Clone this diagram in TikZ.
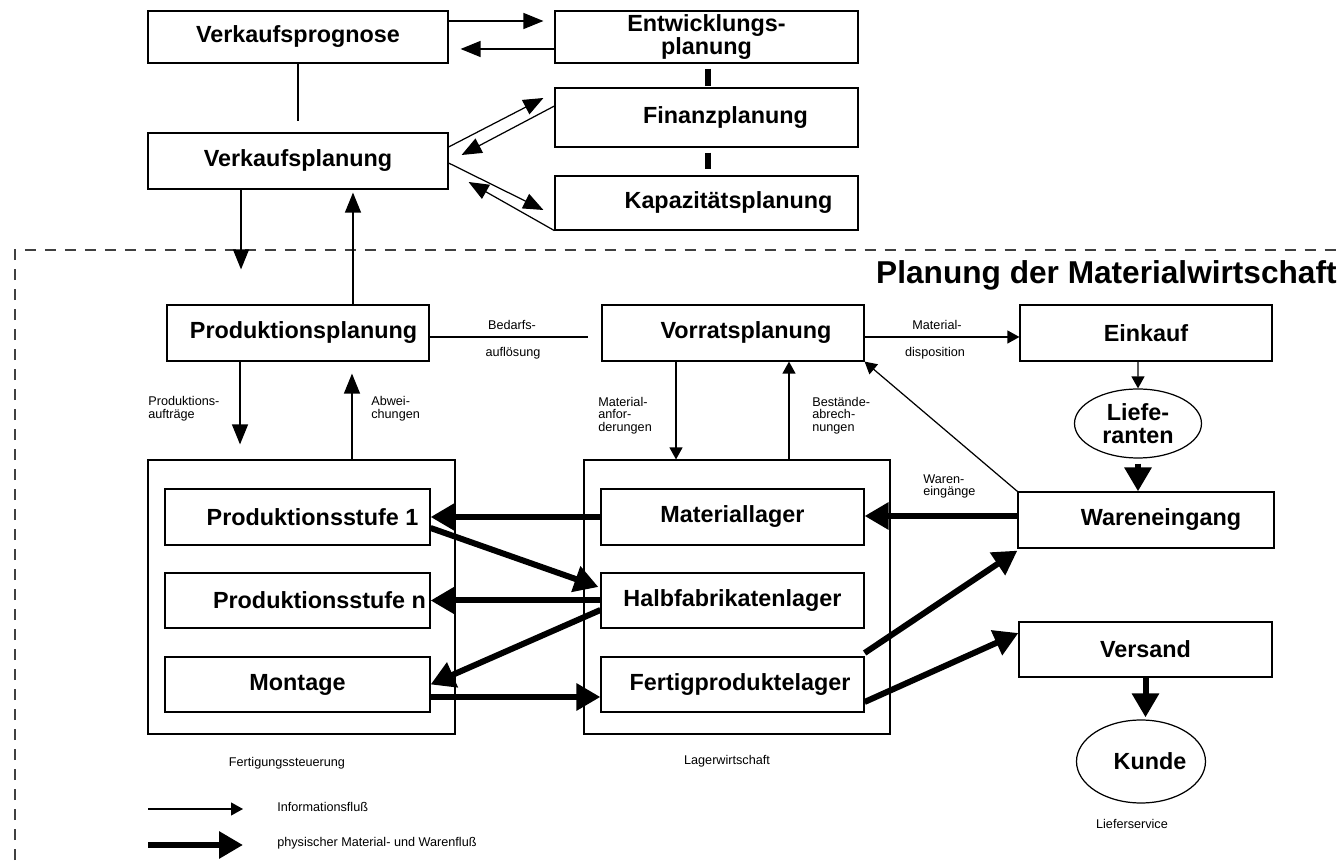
\documentclass[tikz,border=0pt]{standalone}
\usepackage{fontspec}
\setmainfont{Liberation Sans}
\usetikzlibrary{arrows.meta,shapes.geometric}

\tikzstyle{block} = [rectangle, draw, line width=0.7pt, inner sep=0pt, align=center,
    font=\fontsize{13.3}{13}\selectfont\bfseries]
\tikzstyle{oval} = [ellipse, draw, line width=0.7pt, inner sep=0pt, align=center,
    font=\fontsize{13.3}{13}\selectfont\bfseries]
\tikzstyle{frame} = [rectangle, draw, line width=0.7pt, inner sep=0pt]
\tikzstyle{note} = [inner sep=0pt, align=left, font=\fontsize{7.2}{7.2}\selectfont]
\tikzstyle{info} = [-{Triangle[length=0.4cm,width=0.32cm]}, line width=0.7pt]
\tikzstyle{infosmall} = [-{Triangle[length=0.24cm,width=0.26cm]}, line width=0.7pt]
\tikzstyle{flow} = [-{Triangle[length=0.48cm,width=0.52cm]}, line width=0.12cm]
\tikzstyle{bar} = [line width=0.12cm]
\tikzstyle{planframe} = [line width=0.7pt, black!75, dash pattern=on 0.22cm off 0.18cm]

\begin{document}
\begin{tikzpicture}[x=0.02cm,y=-0.02cm]

  \useasboundingbox (0,0) rectangle (1340,864);

  \node[block, minimum width=6cm,    minimum height=1.04cm] (vprog) at (298,37)     {Verkaufsprognose};
  \node[block, minimum width=6.06cm, minimum height=1.04cm] (entw)  at (706.5,37)   {Entwicklungs-\\planung};
  \node[block, minimum width=6.06cm, minimum height=1.18cm] (fin)   at (706.5,117.5) {\hspace*{0.76cm}Finanzplanung};
  \node[block, minimum width=6.06cm, minimum height=1.08cm] (kap)   at (706.5,203)  {\hspace*{0.88cm}Kapazitätsplanung};
  \node[block, minimum width=6cm,    minimum height=1.12cm] (vplan) at (298,161)    {Verkaufsplanung};

  \draw[planframe] (15,900) -- (15,250) -- (1400,250);
  \node[anchor=base east, inner sep=0pt, font=\fontsize{18}{18}\selectfont\bfseries] (title)
       at (1337,284) {Planung der Materialwirtschaft};

  \node[block, minimum width=5.24cm, minimum height=1.12cm] (pplan) at (298,333)  {\hspace*{0.22cm}Produktionsplanung};
  \node[block, minimum width=5.24cm, minimum height=1.12cm] (vorr)  at (733,333)  {\hspace*{0.52cm}Vorratsplanung};
  \node[block, minimum width=5.04cm, minimum height=1.12cm] (eink)  at (1146,333) {Einkauf};
  \node[oval,  minimum width=2.54cm, minimum height=1.38cm] (lief)  at (1138,423.5) {Liefe-\\ranten};
  \node[block, minimum width=5.12cm, minimum height=1.12cm] (ware)  at (1146,520) {\hspace*{0.6cm}Wareneingang};
  \node[block, minimum width=5.06cm, minimum height=1.1cm]  (vers)  at (1145.5,649.5) {Versand};
  \node[oval,  minimum width=2.58cm, minimum height=1.66cm] (kunde) at (1141,761.5) {\hspace*{0.36cm}Kunde};

  \node[frame, minimum width=6.14cm, minimum height=5.48cm] (fst) at (301.5,597) {};
  \node[frame, minimum width=6.12cm, minimum height=5.48cm] (lgw) at (737,597) {};

  \node[block, minimum width=5.3cm,  minimum height=1.12cm] (ps1)  at (297.5,517)   {\hspace*{0.6cm}Produktionsstufe 1};
  \node[block, minimum width=5.3cm,  minimum height=1.1cm]  (psn)  at (297.5,600.5) {\hspace*{0.88cm}Produktionsstufe n};
  \node[block, minimum width=5.3cm,  minimum height=1.1cm]  (mont) at (297.5,684.5) {Montage};
  \node[block, minimum width=5.26cm, minimum height=1.12cm] (mlag) at (732.5,517)   {Materiallager};
  \node[block, minimum width=5.26cm, minimum height=1.1cm]  (hlag) at (732.5,600.5) {Halbfabrikatenlager};
  \node[block, minimum width=5.26cm, minimum height=1.1cm]  (flag) at (732.5,684.5) {\hspace*{0.3cm}Fertigproduktelager};

  \node[note] (bed1) at (512,325) {Bedarfs-};
  \node[note] (bed2) at (513,353) {auflösung};
  \node[note] (mat1) at (937,325) {Material-};
  \node[note] (mat2) at (935,353) {disposition};
  \node[note, anchor=west] (pauf) at (148,409)   {Produktions-\\aufträge};
  \node[note, anchor=west] (abw)  at (371,409)   {Abwei-\\chungen};
  \node[note, anchor=west] (manf) at (598,415.5) {Material-\\anfor-\\derungen};
  \node[note, anchor=west] (babr) at (812,415.5) {Bestände-\\abrech-\\nungen};
  \node[note, anchor=west] (weing) at (923,486.5) {Waren-\\eingänge};
  \node[note] (fstlabel) at (287,763)  {Fertigungssteuerung};
  \node[note] (lgwlabel) at (727,761)  {Lagerwirtschaft};
  \node[note] (lslabel)  at (1132,824) {Lieferservice};

  \coordinate (infoA) at (148,809);
  \coordinate (infoB) at (243,809);
  \coordinate (flowA) at (148,845);
  \coordinate (flowB) at (243,845);
  \node[note, anchor=west] (infotext) at (277,807) {Informationsfluß};
  \node[note, anchor=west] (flowtext) at (277,843) {physischer Material- und Warenfluß};

  \draw[info] ([yshift=0.32cm]vprog.east) -- ([yshift=0.32cm,xshift=-0.22cm]entw.west);
  \draw[info] ([yshift=-0.24cm]entw.west) -- ([yshift=-0.24cm,xshift=0.24cm]vprog.east);
  \draw[bar, shorten <=0.1cm, shorten >=0.02cm] ([xshift=0.03cm]entw.south) -- ([xshift=0.03cm]fin.north);
  \draw[bar, shorten <=0.1cm, shorten >=0.12cm] ([xshift=0.03cm]fin.south) -- ([xshift=0.03cm]kap.north);
  \draw[line width=0.7pt, shorten >=0.22cm] (vprog.south) -- (vplan.north);

  \draw[info] ([yshift=0.28cm]vplan.east) -- ([xshift=-0.22cm,yshift=0.39cm]fin.west);
  \draw[info] ([yshift=0.23cm]fin.west) -- ([xshift=0.26cm,yshift=0.12cm]vplan.east);
  \draw[info] ([yshift=-0.04cm]vplan.east) -- ([xshift=-0.22cm,yshift=-0.14cm]kap.west);
  \draw[info] (kap.south west) -- ([xshift=0.4cm,yshift=-0.42cm]vplan.east);

  \draw[info, shorten >=0.7cm] ([xshift=-1.14cm]vplan.south) -- ([xshift=-1.14cm]vplan.south |- pplan.north);
  \draw[info, shorten >=0.06cm] ([xshift=1.1cm]vplan.south |- pplan.north) -- ([xshift=1.1cm]vplan.south);
  \draw[info, shorten >=0.3cm] ([xshift=-1.16cm]pplan.south) -- ([xshift=-1.16cm]pplan.south |- fst.north);
  \draw[info, shorten >=0.24cm] ([xshift=1.08cm]pplan.south |- fst.north) -- ([xshift=1.08cm]pplan.south);

  \draw[line width=0.7pt, shorten >=0.26cm] ([yshift=-0.08cm]pplan.east) -- ([yshift=-0.08cm]vorr.west);
  \draw[infosmall] ([yshift=-0.08cm]vorr.east) -- ([yshift=-0.08cm]eink.west);
  \draw[infosmall] ([xshift=-1.14cm]vorr.south) -- ([xshift=-1.14cm]vorr.south |- lgw.north);
  \draw[infosmall] ([xshift=1.12cm]vorr.south |- lgw.north) -- ([xshift=1.12cm]vorr.south);
  \draw[infosmall] ([xshift=-0.16cm]eink.south) -- (lief.north);
  \draw[infosmall] (ware.north west) -- (vorr.south east);

  \draw[flow, shorten <=0.1cm] (lief.south) -- (lief.south |- ware.north);
  \draw[flow] ([yshift=0.08cm]ware.west) -- ([yshift=0.08cm]ware.west -| mlag.east);
  \draw[flow] (mlag.west) -- (mlag.west -| ps1.east);
  \draw[flow] ([yshift=-0.22cm]ps1.east) -- ([xshift=-0.04cm,yshift=0.27cm]hlag.west);
  \draw[flow] (hlag.west) -- (hlag.west -| psn.east);
  \draw[flow] ([yshift=-0.19cm]hlag.west) -- (mont.east);
  \draw[flow] ([yshift=-0.25cm]mont.east) -- ([yshift=-0.25cm]mont.east -| flag.west);
  \draw[flow] ([yshift=0.63cm]flag.east) -- ([yshift=-0.04cm]ware.south west);
  \draw[flow] ([yshift=-0.35cm]flag.east) -- ([yshift=0.33cm]vers.west);
  \draw[flow, shorten >=0.04cm] (vers.south) -- (vers.south |- kunde.north);

  \draw[infosmall] (infoA) -- (infoB);
  \draw[flow] (flowA) -- (flowB);
\end{tikzpicture}
\end{document}
